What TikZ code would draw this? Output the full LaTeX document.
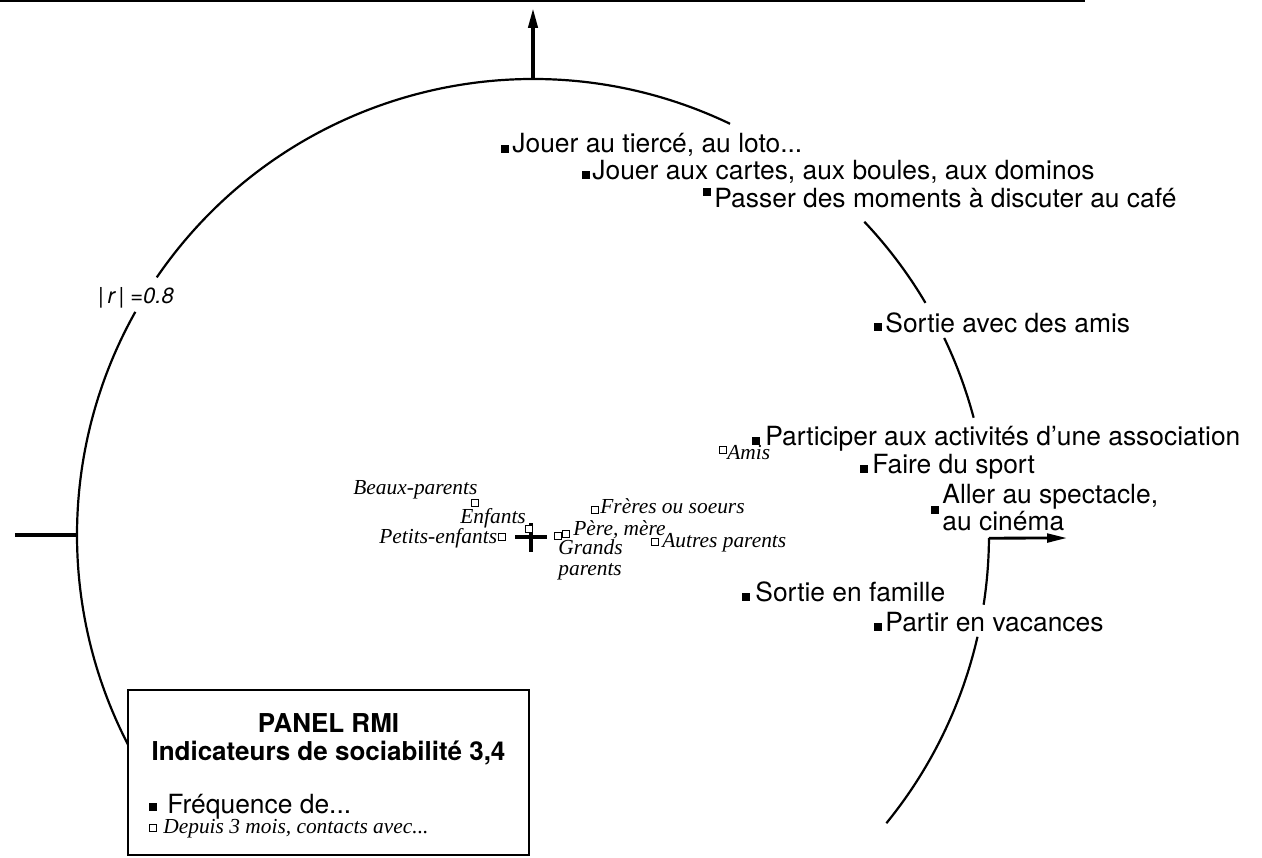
\documentclass[tikz,border=0pt]{standalone}
\usepackage{fontspec}
\usetikzlibrary{arrows.meta}
\newfontfamily\helv{TeX Gyre Heros}
\newfontfamily\serit{Liberation Serif}
\newcommand{\labfont}{\helv\fontsize{13.2}{13.6}\selectfont}
\newcommand{\itfont}{\serit\itshape\fontsize{10.7}{10.5}\selectfont}
\newcommand{\rad}{228pt}

\begin{document}
\begin{tikzpicture}[x=0.5pt, y=0.5pt,
    lab/.style={font=\labfont, anchor=base west, inner sep=0pt},
    itlab/.style={font=\itfont, anchor=base west, inner sep=0pt},
    fsq/.style={fill, minimum size=3.8pt, inner sep=0pt},
    osq/.style={draw, fill=white, line width=0.55pt, minimum size=3.2pt, inner sep=0pt},
    axis/.style={line width=1.8pt},
    ring/.style={line width=1.1pt}]
    \useasboundingbox (-533,-322) rectangle (729,535);
    \draw[line width=1pt] (-533,534) -- (552,534);

    \draw[ring] (64.4:\rad) arc[start angle=64.4, end angle=145.6, radius=\rad];
    \draw[ring] (150.7:\rad) arc[start angle=150.7, end angle=208, radius=\rad];
    \draw[ring] (43.4:\rad) arc[start angle=43.4, end angle=30.6, radius=\rad];
    \draw[ring] (25.6:\rad) arc[start angle=25.6, end angle=14.9, radius=\rad];
    \draw[ring] (-0.4:\rad) arc[start angle=-0.4, end angle=-8.8, radius=\rad];
    \draw[ring] (-12.9:\rad) arc[start angle=-12.9, end angle=-39.2, radius=\rad];

    \coordinate (ytop) at (90:\rad);
    \coordinate (ytip) at (0,527);
    \coordinate (xleft) at (-518,0);
    \coordinate (xlow) at (180:\rad);
    \coordinate (xright) at (-0.4:\rad);
    \coordinate (xtip) at (534,-3);
    \draw[axis, -{Triangle[length=10pt, width=4.6pt]}] (ytop) -- (ytip);
    \draw[axis] (xleft) -- (xlow);
    \draw[line width=1.4pt, -{Triangle[length=10pt, width=4.4pt]}] (xright) -- (xtip);
    \draw[line width=1.6pt] (-18,-2) -- (14,-2) (-2,12) -- (-2,-17);

    \node[font=\helv\itshape\fontsize{11}{12}\selectfont, inner sep=0pt] (rlab) at (-397,237) {|\,r\,| =0.8};

    \node[fsq] (tierce-m) at (-28,386) {};
    \node[lab] (tierce) at (-21,382) {Jouer au tiercé, au loto...};
    \node[fsq] (cartes-m) at (53,360) {};
    \node[lab] (cartes) at (59,355) {Jouer aux cartes, aux boules, aux dominos};
    \node[fsq] (cafe-m) at (174,343) {};
    \node[lab] (cafe) at (181,327) {Passer des moments à discuter au café};
    \node[fsq] (amis-m) at (345,208) {};
    \node[lab] (amis) at (352,203) {Sortie avec des amis};
    \node[fsq] (assoc-m) at (223,94) {};
    \node[lab] (assoc) at (232,90) {Participer aux activités d’une association};
    \node[fsq] (sport-m) at (331,66) {};
    \node[lab] (sport) at (339,62) {Faire du sport};
    \node[fsq] (spect-m) at (402,25) {};
    \node[lab] (spect) at (409,32) {Aller au spectacle,};
    \node[lab] (cinema) at (409,5) {au cinéma};
    \node[fsq] (famille-m) at (213,-62) {};
    \node[lab] (famille) at (222,-66) {Sortie en famille};
    \node[fsq] (vacances-m) at (345,-92) {};
    \node[lab] (vacances) at (352,-96) {Partir en vacances};

    \node[osq] (camis-m) at (190,85) {};
    \node[itlab] (camis) at (194,76) {Amis};
    \node[itlab] (beaux) at (-180,41) {Beaux-parents};
    \node[osq] (beaux-m) at (-58,32) {};
    \node[itlab] (enfants) at (-73,12) {Enfants};
    \node[osq] (enfants-m) at (-4,6) {};
    \node[itlab] (petits) at (-154,-8) {Petits-enfants};
    \node[osq] (petits-m) at (-31,-2) {};
    \node[osq] (grands-m) at (25,-1) {};
    \node[osq] (pere-m) at (33,1) {};
    \node[itlab] (pere) at (40,0) {Père, mère};
    \node[itlab] (grands) at (25,-19) {Grands};
    \node[itlab] (grands2) at (25,-40) {parents};
    \node[osq] (freres-m) at (62,25) {};
    \node[itlab] (freres) at (67,22) {Frères ou soeurs};
    \node[osq] (autres-m) at (122,-7) {};
    \node[itlab] (autres) at (129,-12) {Autres parents};

    \node[draw, line width=1.2pt, fill=white, minimum width=200.5pt, minimum height=82.5pt, inner sep=0pt] (legend) at (-204.5,-237.5) {};
    \node[font=\helv\bfseries\fontsize{13}{14}\selectfont, anchor=base, inner sep=0pt] (title) at (-204.5,-197) {PANEL RMI};
    \node[font=\helv\bfseries\fontsize{13}{14}\selectfont, anchor=base, inner sep=0pt] (subtitle) at (-204.5,-225) {Indicateurs de sociabilité 3,4};
    \node[fsq] (freq-m) at (-380,-272) {};
    \node[lab] (freq) at (-366,-278) {Fréquence de...};
    \node[osq] (depuis-m) at (-380,-293) {};
    \node[itlab] (depuis) at (-370,-298) {Depuis 3 mois, contacts avec...};
\end{tikzpicture}
\end{document}
